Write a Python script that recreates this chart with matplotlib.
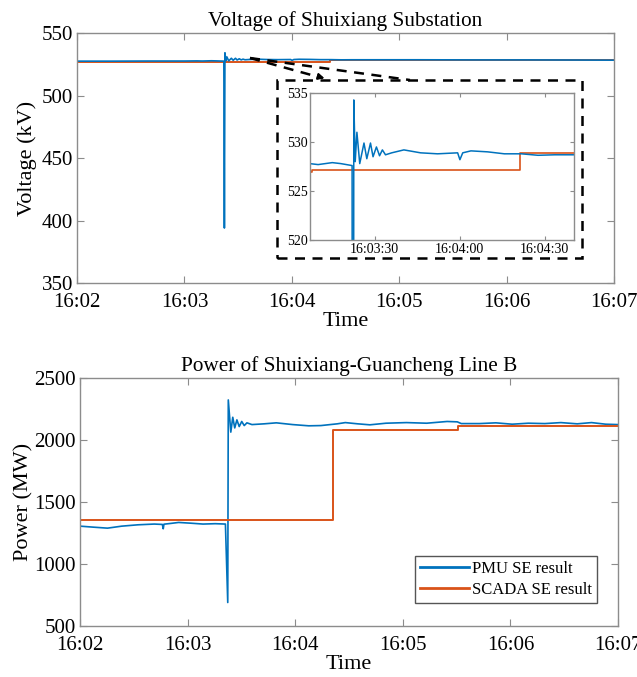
import matplotlib
matplotlib.use("Agg")
import matplotlib.pyplot as plt
from matplotlib.lines import Line2D
from matplotlib.patches import Rectangle

plt.rcParams["font.family"] = ["Liberation Serif", "DejaVu Serif"]
plt.rcParams["mathtext.fontset"] = "stix"

# time axis: seconds after 16:02:00
MAIN_TICKS = [0, 60, 120, 180, 240, 300]
MAIN_LABELS = ["16:02", "16:03", "16:04", "16:05", "16:06", "16:07"]
INSET_TICKS = [90, 120, 150]
INSET_LABELS = ["16:03:30", "16:04:00", "16:04:30"]

# voltage, PMU state estimate (kV)
v_pmu_t = [0, 20, 40, 60, 67, 70, 75, 78, 80, 82.0, 82.3, 82.6, 83.1, 83.7,
           84.7, 86.2, 87.2, 88.5, 89.4, 90.6, 91.7, 92.7, 93.8, 96, 100.3,
           106.2, 112.2, 119.3, 120.1, 121.1, 124, 129.9, 135.8, 141.8,
           147.7, 153.6, 160.1, 190, 220, 250, 280, 300]
v_pmu = [527.6, 527.6, 527.7, 527.7, 527.8, 527.7, 527.9, 527.8, 527.7,
         527.6, 394.0, 534.3, 528.0, 531.0, 527.8, 529.9, 528.3, 529.9,
         528.5, 529.5, 528.6, 529.2, 528.7, 528.9, 529.2, 528.9, 528.8,
         528.9, 528.2, 528.9, 529.1, 529.0, 528.8, 528.8, 528.65, 528.7,
         528.7, 528.7, 528.6, 528.6, 528.5, 528.4]

# voltage, SCADA state estimate (kV) - step values
v_scada_t = [0, 68, 141.4, 210, 300]
v_scada = [526.9, 527.1, 528.9, 528.8, 528.8]

# power, PMU state estimate (MW)
p_pmu_t = [0, 7.3, 15.2, 23.1, 32.2, 41.3, 45.8, 46.3, 46.7, 50.4, 54.9,
           61.7, 68.5, 75.3, 81.0, 82.3, 82.6, 84.0, 85.1, 86.2, 87.4, 88.7,
           90.1, 91.5, 93.0, 95.8, 102.6, 109.4, 118.5, 127.5, 134.3, 143.4,
           147.9, 154.8, 161.6, 170.6, 182, 193.3, 204.7, 210.4, 212.6,
           222.8, 231.9, 241, 250, 259.2, 268.2, 277.3, 285.3, 293.2, 300]
p_pmu = [1306, 1298, 1290, 1306, 1317, 1323, 1320, 1285, 1322, 1328, 1336,
         1330, 1323, 1326, 1323, 690, 2325, 2065, 2185, 2099, 2164, 2110,
         2151, 2118, 2140, 2126, 2132, 2140, 2126, 2116, 2118, 2132, 2142,
         2132, 2124, 2137, 2142, 2137, 2151, 2148, 2134, 2134, 2140, 2129,
         2137, 2134, 2142, 2132, 2142, 2129, 2126]

# power, SCADA state estimate (MW)
p_scada_t = [0, 141.1, 211, 300]
p_scada = [1358, 2086, 2113, 2118]

BLUE = "#0072BD"
ORANGE = "#D95319"
SPINE = "#8c8c8c"


def style_axes(ax, size, xpad=3):
    for s in ax.spines.values():
        s.set_color(SPINE)
        s.set_linewidth(1.0)
    ax.tick_params(direction="in", top=True, right=True, length=5,
                   width=0.8, color=SPINE, labelsize=size, pad=3)
    ax.tick_params(axis="x", pad=xpad)


fig = plt.figure(figsize=(6.37, 6.77), dpi=100)

# ── top: voltage ──
ax1 = fig.add_axes([0.121, 0.582, 0.843, 0.369])
ax1.step(v_scada_t, v_scada, where="post", color=ORANGE, lw=1.4)
ax1.plot(v_pmu_t, v_pmu, color=BLUE, lw=1.2)
ax1.set_xlim(0, 300)
ax1.set_ylim(350, 550)
ax1.set_yticks([350, 400, 450, 500, 550])
ax1.set_xticks(MAIN_TICKS, MAIN_LABELS)
style_axes(ax1, 15, xpad=7)
ax1.set_title("Voltage of Shuixiang Substation", fontsize=15.3, pad=5)
ax1.set_xlabel("Time", fontsize=16, labelpad=0)
ax1.set_ylabel("Voltage (kV)", fontsize=16, labelpad=3)

# inset
axin = fig.add_axes([0.487, 0.6455, 0.414, 0.217])
axin.step(v_scada_t, v_scada, where="post", color=ORANGE, lw=1.2)
axin.plot(v_pmu_t, v_pmu, color=BLUE, lw=1.1)
axin.set_xlim(67.2, 160.4)
axin.set_ylim(520, 535)
axin.set_yticks([520, 525, 530, 535])
axin.set_xticks(INSET_TICKS, INSET_LABELS)
style_axes(axin, 10, xpad=2)
axin.tick_params(length=3)
axin.tick_params(axis="y", pad=2)

fig.add_artist(Rectangle((0.435, 0.619), 0.479, 0.263,
                         transform=fig.transFigure, fill=False,
                         edgecolor="black", lw=1.8, linestyle=(0, (4, 3))))
start = (0.3925, 0.9143)
fig.add_artist(Line2D([start[0], 0.505], [start[1], 0.885],
                      transform=fig.transFigure, color="black", lw=1.8,
                      linestyle=(0, (4, 3))))
fig.add_artist(Line2D([start[0], 0.6436], [start[1], 0.8818],
                      transform=fig.transFigure, color="black", lw=1.8,
                      linestyle=(0, (4, 3))))
fig.add_artist(plt.annotate("", xy=(0.5133, 0.8833), xytext=(0.500, 0.8868),
                            xycoords="figure fraction",
                            arrowprops=dict(arrowstyle="-|>", color="black",
                                            lw=1.2, mutation_scale=9)))

# ── bottom: power ──
ax2 = fig.add_axes([0.126, 0.0753, 0.844, 0.366])
ax2.plot(p_pmu_t, p_pmu, color=BLUE, lw=1.2, label="PMU SE result")
ax2.step(p_scada_t, p_scada, where="post", color=ORANGE, lw=1.4,
         label="SCADA SE result")
ax2.set_xlim(0, 300)
ax2.set_ylim(500, 2500)
ax2.set_yticks([500, 1000, 1500, 2000, 2500])
ax2.set_xticks(MAIN_TICKS, MAIN_LABELS)
style_axes(ax2, 15, xpad=7)
ax2.set_title("Power of Shuixiang-Guancheng Line B", fontsize=15.3, pad=5)
ax2.set_xlabel("Time", fontsize=16, labelpad=0)
ax2.set_ylabel("Power (MW)", fontsize=16, labelpad=1)
leg = ax2.legend(loc="lower right", bbox_to_anchor=(0.961, 0.093),
                 fontsize=12, handlelength=2.9, handletextpad=0.2,
                 borderpad=0.3, labelspacing=0.3, fancybox=False,
                 framealpha=1, edgecolor="#555555", borderaxespad=0)
leg.get_frame().set_linewidth(1.0)
for h in leg.legend_handles:
    h.set_linewidth(2.0)

fig.savefig("out.png", dpi=100)
